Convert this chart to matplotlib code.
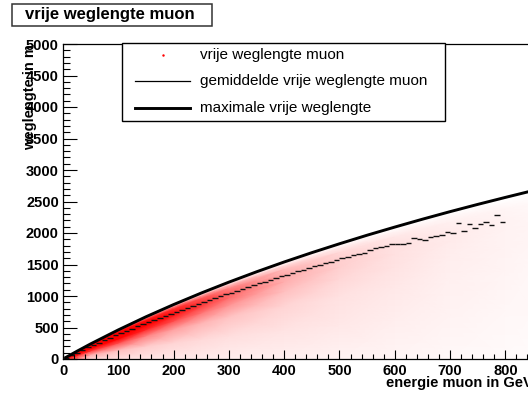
import numpy as np
import matplotlib.pyplot as plt
from matplotlib.colors import LinearSegmentedColormap
from matplotlib.patches import Rectangle
from matplotlib.lines import Line2D

plt.rcParams['font.family'] = ['Liberation Sans', 'DejaVu Sans']

# maximale vrije weglengte (E in GeV, L in m)
max_e = [5, 25, 50, 100, 150, 200, 250, 300, 350, 400, 450, 500, 550, 600,
         650, 700, 750, 800, 850]
max_l = [24, 122, 240, 462, 670, 864, 1047, 1220, 1384, 1540, 1688, 1829,
         1965, 2094, 2219, 2339, 2454, 2565, 2673]

# gemiddelde vrije weglengte per bin van 10 GeV
prof_mean = [20, 62, 103, 144, 184, 223, 261, 299, 337, 374,
             410, 446, 482, 517, 552, 586, 619, 652, 685, 718,
             750, 782, 813, 844, 876, 906, 937, 967, 996, 1027,
             1055, 1085, 1114, 1143, 1171, 1200, 1228, 1256, 1284, 1311,
             1339, 1365, 1392, 1418, 1445, 1470, 1496, 1520, 1546, 1571,
             1596, 1620, 1643, 1668, 1690, 1730, 1755, 1775, 1800, 1818,
             1830, 1828, 1847, 1926, 1899, 1889, 1942, 1958, 1968, 2021,
             2005, 2153, 2032, 2143, 2074, 2143, 2180, 2127, 2286, 2180]
bin_w = 10
bin_lo = np.arange(len(prof_mean)) * bin_w

# dichtheid van de muonen (schatting), kolommen = energie, rijen = fractie van max
dens_e = [5, 50, 100, 150, 200, 250, 300, 400, 500, 600, 700, 800, 850]
dens_f = [0, 0.3, 0.55, 0.7, 0.8, 0.87, 0.93, 0.97, 1.0]
dens = [
    [0.8, 0.15, 0.12, 0.10, 0.09, 0.08, 0.07, 0.06, 0.05, 0.04, 0.03, 0.02, 0.015],
    [0.9, 0.35, 0.25, 0.2, 0.17, 0.15, 0.13, 0.11, 0.09, 0.07, 0.05, 0.035, 0.03],
    [1.0, 0.8, 0.7, 0.5, 0.38, 0.3, 0.24, 0.17, 0.12, 0.09, 0.06, 0.045, 0.035],
    [1.0, 1.0, 1.0, 0.85, 0.7, 0.55, 0.42, 0.25, 0.16, 0.11, 0.07, 0.05, 0.04],
    [1.0, 1.0, 1.0, 1.0, 0.9, 0.75, 0.58, 0.32, 0.19, 0.12, 0.08, 0.05, 0.04],
    [1.0, 1.0, 1.0, 1.0, 0.92, 0.78, 0.6, 0.33, 0.19, 0.12, 0.08, 0.05, 0.035],
    [1.0, 1.0, 1.0, 0.9, 0.78, 0.62, 0.45, 0.26, 0.15, 0.09, 0.06, 0.04, 0.025],
    [1.0, 1.0, 0.85, 0.6, 0.45, 0.33, 0.22, 0.12, 0.07, 0.04, 0.03, 0.015, 0.01],
    [0.8, 0.7, 0.4, 0.25, 0.15, 0.09, 0.06, 0.03, 0.015, 0.0, 0.0, 0.0, 0.0],
]

W, H = 528, 397
fig = plt.figure(figsize=(W / 100, H / 100), dpi=100)
ax = fig.add_axes([63 / W, (H - 359) / H, 470 / W, 315 / H])

# scatter als dichtheid
lmax_nodes = np.array([max_l[max_e.index(e)] for e in dens_e])
X = np.tile(np.array(dens_e, float), (len(dens_f), 1))
Y = np.outer(dens_f, lmax_nodes)
cmap = LinearSegmentedColormap.from_list('wr', ['white', 'red'])
ax.pcolormesh(X, Y, np.array(dens), cmap=cmap, vmin=0, vmax=1, shading='gouraud', zorder=1)

# profiel: horizontale streepjes per bin
ax.hlines(prof_mean, bin_lo, bin_lo + bin_w, colors='#111111', lw=1.0, zorder=3)
ax.plot(max_e, max_l, color='black', lw=2.1, zorder=4)

ax.set_xlim(0, 850)
ax.set_ylim(0, 5000)
ax.set_xticks(np.arange(0, 900, 100))
ax.set_xticks(np.arange(0, 860, 20), minor=True)
ax.set_yticks(np.arange(0, 5001, 500))
ax.set_yticks(np.arange(0, 5001, 100), minor=True)
ax.tick_params(axis='x', which='major', direction='in', length=6.5, width=0.8, pad=3.5)
ax.tick_params(axis='x', which='minor', direction='in', length=3.3, width=0.8)
ax.tick_params(axis='y', which='major', direction='in', length=10, width=0.8, pad=3)
ax.tick_params(axis='y', which='minor', direction='in', length=5, width=0.8)
for lab in ax.get_xticklabels() + ax.get_yticklabels():
    lab.set_fontweight('bold')
    lab.set_fontsize(10.5)
for s in ax.spines.values():
    s.set_linewidth(0.9)

ax.set_xlabel('energie muon in GeV', fontsize=10.5, fontweight='bold', loc='right')
ax.xaxis.set_label_coords(1.0, -0.055)
ax.set_ylabel('weglengte in m', fontsize=10.5, fontweight='bold', loc='top')
ax.yaxis.set_label_coords(-26 / 470, 1.0)

# titel in een kader
fig.add_artist(Rectangle((12 / W, 1 - 26 / H), 200 / W, 22 / H, transform=fig.transFigure,
                         facecolor='white', edgecolor='#333333', lw=1.1))
fig.text(25 / W, 1 - 15 / H, 'vrije weglengte muon', fontsize=12, fontweight='bold',
         va='center', ha='left')

# legenda
fig.add_artist(Rectangle((122 / W, 1 - 121 / H), 323 / W, 78 / H, transform=fig.transFigure,
                         facecolor='white', edgecolor='black', lw=1.0, zorder=5))
rows = [55, 81, 108]
labels = ['vrije weglengte muon', 'gemiddelde vrije weglengte muon', 'maximale vrije weglengte']
fig.add_artist(Line2D([162.5 / W], [1 - rows[0] / H], marker='.', markersize=1.5, color='red',
                      ls='none', transform=fig.transFigure, zorder=6))
fig.add_artist(Line2D([135 / W, 190 / W], [1 - rows[1] / H] * 2, color='black', lw=0.9,
                      transform=fig.transFigure, zorder=6))
fig.add_artist(Line2D([135 / W, 190 / W], [1 - rows[2] / H] * 2, color='black', lw=2.1,
                      transform=fig.transFigure, zorder=6))
for r, t in zip(rows, labels):
    fig.text(200 / W, 1 - r / H, t, fontsize=11, va='center', ha='left', zorder=7)

fig.savefig('out.png', dpi=100)
